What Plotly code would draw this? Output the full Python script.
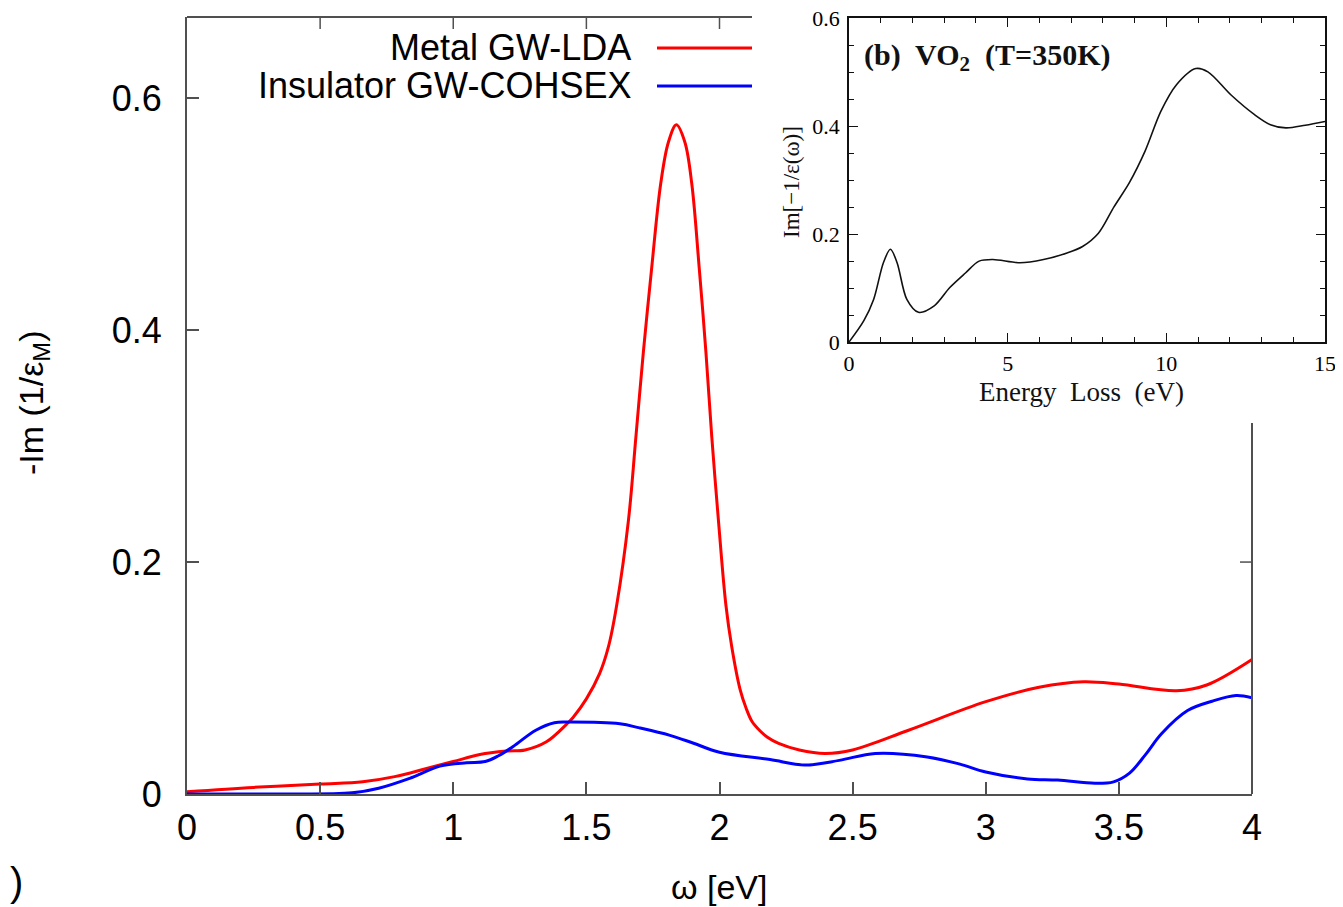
import plotly.graph_objects as go

W, H = 1343, 907
OFF = 8  # the page body margin shifts the figure by 8px

# ---------------- data ----------------
omega_metal = [0.0, 0.25, 0.5, 0.66, 0.78, 0.9, 1.0, 1.1, 1.2, 1.27, 1.35, 1.425, 1.45, 1.5, 1.55,
               1.583, 1.614, 1.658, 1.686, 1.714, 1.745, 1.779, 1.808, 1.838, 1.87, 1.896, 1.924,
               1.949, 1.971, 1.996, 2.024, 2.046, 2.077, 2.1, 2.121, 2.15, 2.18, 2.222, 2.3, 2.396,
               2.5, 2.71, 3.0, 3.2, 3.367, 3.5, 3.716, 3.83, 4.0]
loss_metal = [0.002, 0.0057, 0.0086, 0.0106, 0.015, 0.022, 0.028, 0.034, 0.037, 0.038, 0.045, 0.06,
              0.066, 0.082, 0.104, 0.127, 0.163, 0.236, 0.308, 0.381, 0.453, 0.526, 0.562, 0.577,
              0.562, 0.526, 0.453, 0.381, 0.308, 0.236, 0.163, 0.127, 0.0905, 0.074, 0.063, 0.055,
              0.049, 0.0437, 0.038, 0.035, 0.038, 0.055, 0.0796, 0.092, 0.0968, 0.0948, 0.089, 0.094,
              0.116]

omega_ins = [0.0, 0.3, 0.62, 0.72, 0.836, 0.95, 1.05, 1.12, 1.17, 1.225, 1.31, 1.38, 1.44, 1.626,
             1.7, 1.814, 1.9, 2.0, 2.19, 2.32, 2.45, 2.585, 2.78, 2.9, 3.0, 3.157, 3.27, 3.41, 3.48,
             3.54, 3.6, 3.66, 3.758, 3.85, 3.94, 4.0]
loss_ins = [0.0, 0.0, 0.001, 0.005, 0.0135, 0.024, 0.027, 0.028, 0.033, 0.041, 0.055, 0.0615, 0.062,
            0.0605, 0.057, 0.0506, 0.044, 0.036, 0.0297, 0.025, 0.029, 0.035, 0.032, 0.026, 0.019,
            0.013, 0.012, 0.0092, 0.0105, 0.018, 0.034, 0.052, 0.072, 0.080, 0.085, 0.083]

energy_exp = [0.0, 0.468, 0.776, 1.084, 1.305, 1.515, 1.823, 2.19, 2.685, 3.177, 3.67, 4.1, 4.53,
              5.39, 6.13, 6.87, 7.36, 7.86, 8.35, 8.84, 9.33, 9.83, 10.32, 10.93, 11.31, 12.04,
              12.78, 13.28, 13.77, 14.38, 15.0]
loss_exp = [0.0, 0.0397, 0.079, 0.147, 0.172, 0.147, 0.079, 0.055, 0.067, 0.101, 0.128, 0.150,
            0.153, 0.147, 0.153, 0.165, 0.177, 0.2016, 0.2505, 0.296, 0.354, 0.428, 0.477, 0.507,
            0.501, 0.458, 0.4216, 0.403, 0.397, 0.402, 0.409]

x_ticks = [0, 0.5, 1, 1.5, 2, 2.5, 3, 3.5, 4]
x_tick_text = ["0", "0.5", "1", "1.5", "2", "2.5", "3", "3.5", "4"]
y_ticks = [0, 0.2, 0.4, 0.6]
y_tick_text = ["0", "0.2", "0.4", "0.6"]
inset_x_ticks = [0, 5, 10, 15]
inset_y_ticks = [0, 0.2, 0.4, 0.6]
inset_y_tick_text = ["0", "0.2", "0.4", "0.6"]

series_names = ["Metal GW-LDA", "Insulator GW-COHSEX"]
series_colors = ["#ff0000", "#0000ff"]


def px(x):
    return (x - OFF) / W


def py(y):
    return 1 - (y - OFF) / H


SANS = "Liberation Sans, Arial, sans-serif"
SERIF = "Liberation Serif, Times New Roman, serif"
FRAME = "#505050"

main_x_dom = [px(187), px(1252)]
main_y_dom = [py(794), py(17)]
inset_x_dom = [px(849), px(1325)]
inset_y_dom = [py(342), py(18)]

fig = go.Figure()
fig.add_trace(go.Scatter(x=omega_metal, y=loss_metal, mode="lines", name=series_names[0],
                         line=dict(color=series_colors[0], width=3, shape="spline", smoothing=1.0),
                         xaxis="x", yaxis="y", showlegend=False))
fig.add_trace(go.Scatter(x=omega_ins, y=loss_ins, mode="lines", name=series_names[1],
                         line=dict(color=series_colors[1], width=3, shape="spline", smoothing=1.0),
                         xaxis="x", yaxis="y", showlegend=False))
fig.add_trace(go.Scatter(x=energy_exp, y=loss_exp, mode="lines", name="VO2 exp",
                         line=dict(color="#111111", width=1.6, shape="spline", smoothing=0.9),
                         xaxis="x2", yaxis="y2", showlegend=False))

tick_font = dict(family=SANS, size=36, color="#000000")
inset_font = dict(family=SERIF, size=22, color="#000000")

fig.update_layout(
    width=W, height=H,
    margin=dict(l=0, r=0, t=0, b=0, autoexpand=False),
    paper_bgcolor="white", plot_bgcolor="rgba(0,0,0,0)",
    showlegend=False,
    xaxis=dict(domain=main_x_dom, range=[0, 4], tickvals=x_ticks, ticktext=x_tick_text,
               ticks="inside", ticklen=12, tickwidth=1.5, tickcolor=FRAME,
               showline=True, linecolor=FRAME, linewidth=2, showgrid=False, zeroline=False,
               tickfont=tick_font, ticklabelstandoff=1, anchor="y"),
    yaxis=dict(domain=main_y_dom, range=[0, 0.67], tickvals=y_ticks, ticktext=y_tick_text,
               ticks="inside", ticklen=12, tickwidth=1.5, tickcolor=FRAME,
               showline=True, linecolor=FRAME, linewidth=2, showgrid=False, zeroline=False,
               tickfont=tick_font, ticklabelstandoff=16, anchor="x"),
    xaxis2=dict(domain=inset_x_dom, range=[0, 15], tickvals=inset_x_ticks, anchor="y2",
                ticks="inside", ticklen=9, tickwidth=1.3, tickcolor="#111111",
                minor=dict(dtick=1, ticks="inside", ticklen=5, tickwidth=1.1, tickcolor="#111111"),
                showline=True, linecolor="#111111", linewidth=1.8, mirror="allticks",
                showgrid=False, zeroline=False, tickfont=inset_font, ticklabelstandoff=1,
                ticklabeloverflow="allow"),
    yaxis2=dict(domain=inset_y_dom, range=[0, 0.6008], tickvals=inset_y_ticks, ticktext=inset_y_tick_text,
                anchor="x2", ticks="inside", ticklen=9, tickwidth=1.3, tickcolor="#111111",
                minor=dict(dtick=0.05, ticks="inside", ticklen=5, tickwidth=1.1, tickcolor="#111111"),
                showline=True, linecolor="#111111", linewidth=1.5, mirror="allticks",
                showgrid=False, zeroline=False, tickfont=inset_font, ticklabelstandoff=3,
                ticklabeloverflow="allow"),
)

shapes = []
# partial frame of the main plot (the inset picture covers the top-right corner)
shapes.append(dict(type="line", xref="paper", yref="paper", x0=px(187), x1=px(752), y0=py(17), y1=py(17),
                   line=dict(color=FRAME, width=2)))
shapes.append(dict(type="line", xref="paper", yref="paper", x0=px(1252), x1=px(1252), y0=py(423), y1=py(794),
                   line=dict(color=FRAME, width=2)))
# mirrored ticks on top (only those left of the inset) and right
for t in x_ticks:
    if 0 < t <= 2:
        shapes.append(dict(type="line", xref="x", yref="y domain", x0=t, x1=t, y0=1, y1=1 - 12 / 777,
                           line=dict(color=FRAME, width=1.5)))
for t in y_ticks:
    if 0 < t < 0.3:
        shapes.append(dict(type="line", xref="x domain", yref="y", x0=1, x1=1 - 12 / 1065, y0=t, y1=t,
                           line=dict(color=FRAME, width=1.5)))
# legend keys
for c, yk in zip(series_colors, [48, 86]):
    shapes.append(dict(type="line", xref="paper", yref="paper", x0=px(657), x1=px(752), y0=py(yk), y1=py(yk),
                       line=dict(color=c, width=3)))
fig.update_layout(shapes=shapes)

ann = []
for name, yk in zip(series_names, [47, 86]):
    ann.append(dict(text=name, x=px(633), y=py(yk), xref="paper", yref="paper", xanchor="right",
                    yanchor="middle", showarrow=False, font=dict(family=SANS, size=36, color="#000")))
ann.append(dict(text="-Im (1/ε<sub>M</sub>)", x=px(33), y=py(403), xref="paper", yref="paper",
                textangle=-90, showarrow=False, xanchor="center", yanchor="middle",
                font=dict(family=SANS, size=34, color="#000")))
ann.append(dict(text="ω [eV]", x=px(719), y=py(887), xref="paper", yref="paper", showarrow=False,
                xanchor="center", yanchor="middle", font=dict(family=SANS, size=34, color="#000")))
ann.append(dict(text=")", x=px(16), y=py(882), xref="paper", yref="paper", showarrow=False,
                xanchor="center", yanchor="middle", font=dict(family=SANS, size=40, color="#000")))
ann.append(dict(text="<b>(b)  VO<sub>2</sub>  (T=350K)</b>", x=px(862), y=py(57), xref="paper", yref="paper",
                showarrow=False, xanchor="left", yanchor="middle", font=dict(family=SERIF, size=30, color="#111")))
ann.append(dict(text="Im[−1/ε(ω)]", x=px(792), y=py(182), xref="paper", yref="paper", textangle=-90,
                showarrow=False, xanchor="center", yanchor="middle", font=dict(family=SERIF, size=23, color="#111")))
ann.append(dict(text="Energy  Loss  (eV)", x=px(1081), y=py(392), xref="paper", yref="paper",
                showarrow=False, xanchor="center", yanchor="middle", font=dict(family=SERIF, size=27, color="#111")))
fig.update_layout(annotations=ann)

fig.write_html("out.html")
